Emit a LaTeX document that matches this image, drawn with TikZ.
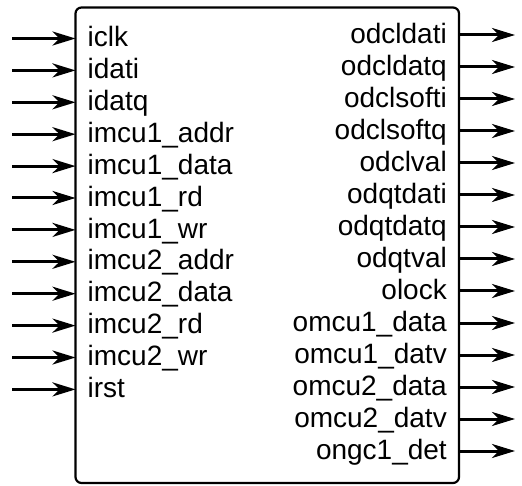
\documentclass[tikz,border=0pt]{standalone}
\usepackage{fontspec}
\setmainfont{Liberation Sans}
\usetikzlibrary{arrows.meta}

\tikzset{
  sig/.style={line width=3pt, -{Stealth[length=23pt,width=14pt,inset=7pt]}},
  pin/.style={inner sep=0pt, text height=21.5pt, text depth=5.1pt, font=\fontsize{28}{32}\selectfont}
}

\begin{document}
\begin{tikzpicture}[x=1pt,y=-1pt]
    \useasboundingbox (0,0) rectangle (522,486);

    % block outline
    \draw[line width=2.2pt, rounded corners=6pt] (75.5,7.5) coordinate (tl) rectangle (459,483) coordinate (br);

    % inputs
    \foreach \name [count=\i from 0] in {iclk,idati,idatq,imcu1\_addr,imcu1\_data,imcu1\_rd,
      imcu1\_wr,imcu2\_addr,imcu2\_data,imcu2\_rd,imcu2\_wr,irst} {
      \node[pin, anchor=west] (in\i) at (87.5,38.5+31.9*\i) {\name};
      \coordinate (in\i s) at (12,38.5+31.9*\i);
      \draw[sig] (in\i s) -- (tl |- in\i.west);
    }

    % outputs
    \foreach \name [count=\i from 0] in {odcldati,odcldatq,odclsofti,odclsoftq,odclval,odqtdati,
      odqtdatq,odqtval,olock,omcu1\_data,omcu1\_datv,omcu2\_data,omcu2\_datv,ongc1\_det} {
      \node[pin, anchor=east] (out\i) at (447,35+32*\i) {\name};
      \coordinate (out\i e) at (515,35+32*\i);
      \draw[sig] (br |- out\i.east) -- (out\i e);
    }
\end{tikzpicture}
\end{document}
